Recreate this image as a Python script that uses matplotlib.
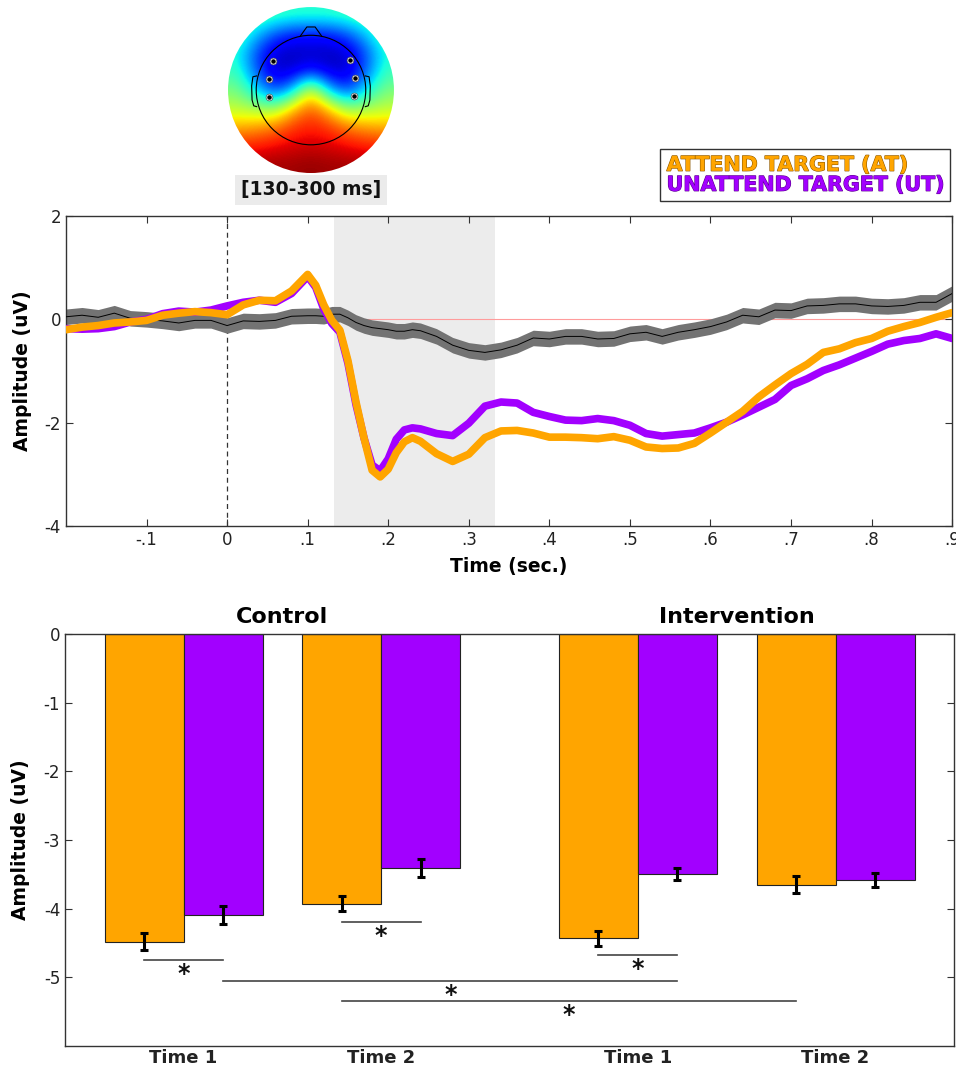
import numpy as np
import matplotlib
matplotlib.use("Agg")
import matplotlib.pyplot as plt
import matplotlib.patheffects as pe
from matplotlib.patches import Circle
from matplotlib.lines import Line2D

# ---- ERP waveforms (time in s, amplitude in uV) ----
time_s = [-0.20, -0.18, -0.16, -0.14, -0.12, -0.10, -0.08, -0.06, -0.04, -0.02,
          0.00, 0.02, 0.04, 0.06, 0.08, 0.10, 0.11, 0.12, 0.13, 0.14,
          0.15, 0.16, 0.17, 0.18, 0.19, 0.20, 0.21, 0.22, 0.23, 0.24,
          0.26, 0.28, 0.30, 0.32, 0.34, 0.36, 0.38, 0.40, 0.42, 0.44,
          0.46, 0.48, 0.50, 0.52, 0.54, 0.56, 0.58, 0.60, 0.62, 0.64,
          0.66, 0.68, 0.70, 0.72, 0.74, 0.76, 0.78, 0.80, 0.82, 0.84,
          0.86, 0.88, 0.90]
attend_uv = [-0.20, -0.15, -0.12, -0.07, -0.05, -0.02, 0.08, 0.12, 0.15, 0.13,
             0.09, 0.28, 0.37, 0.36, 0.55, 0.87, 0.66, 0.28, -0.02, -0.21,
             -0.80, -1.60, -2.30, -2.92, -3.05, -2.90, -2.58, -2.37, -2.29, -2.36,
             -2.60, -2.75, -2.61, -2.29, -2.16, -2.15, -2.20, -2.28, -2.28, -2.29,
             -2.31, -2.27, -2.34, -2.47, -2.50, -2.49, -2.40, -2.20, -1.99, -1.78,
             -1.50, -1.27, -1.05, -0.87, -0.64, -0.57, -0.45, -0.37, -0.23, -0.14,
             -0.06, 0.04, 0.13]
unattend_uv = [-0.18, -0.19, -0.18, -0.14, -0.05, 0.00, 0.11, 0.16, 0.14, 0.18,
               0.26, 0.33, 0.37, 0.33, 0.50, 0.83, 0.62, 0.20, -0.08, -0.25,
               -0.85, -1.65, -2.30, -2.82, -2.93, -2.70, -2.32, -2.14, -2.10, -2.12,
               -2.21, -2.25, -2.01, -1.68, -1.60, -1.62, -1.80, -1.88, -1.95, -1.96,
               -1.92, -1.96, -2.05, -2.21, -2.26, -2.23, -2.20, -2.10, -1.99, -1.85,
               -1.70, -1.55, -1.28, -1.15, -0.99, -0.88, -0.75, -0.62, -0.48, -0.41,
               -0.37, -0.28, -0.37]
diff_uv = [0.05, 0.08, 0.04, 0.12, 0.02, 0.00, -0.03, -0.07, -0.02, -0.02,
           -0.12, -0.03, -0.04, -0.02, 0.06, 0.07, 0.07, 0.06, 0.10, 0.10,
           0.03, -0.06, -0.12, -0.16, -0.18, -0.20, -0.23, -0.23, -0.20, -0.22,
           -0.33, -0.50, -0.60, -0.64, -0.59, -0.50, -0.36, -0.38, -0.33, -0.33,
           -0.38, -0.37, -0.28, -0.25, -0.33, -0.25, -0.20, -0.14, -0.05, 0.08,
           0.05, 0.18, 0.17, 0.26, 0.27, 0.30, 0.30, 0.26, 0.25, 0.27,
           0.33, 0.33, 0.50]
diff_se = 0.15
window_s = (0.133, 0.333)

# ---- topography (jet scale 0..1), rows from front (top) to back ----
topo_grid = [
    [0.45, 0.45, 0.42, 0.40, 0.40, 0.40, 0.42, 0.45, 0.45],
    [0.45, 0.32, 0.20, 0.14, 0.13, 0.14, 0.20, 0.32, 0.45],
    [0.38, 0.20, 0.07, 0.05, 0.06, 0.05, 0.07, 0.20, 0.38],
    [0.42, 0.22, 0.07, 0.08, 0.15, 0.08, 0.07, 0.22, 0.42],
    [0.50, 0.35, 0.18, 0.30, 0.66, 0.30, 0.18, 0.35, 0.50],
    [0.58, 0.55, 0.52, 0.70, 0.82, 0.70, 0.52, 0.55, 0.58],
    [0.72, 0.74, 0.78, 0.85, 0.88, 0.85, 0.78, 0.74, 0.72],
    [0.87, 0.88, 0.90, 0.92, 0.93, 0.92, 0.90, 0.88, 0.87],
    [0.96, 0.96, 0.97, 0.97, 0.98, 0.97, 0.97, 0.96, 0.96],
]
elec_x = [-0.46, -0.51, -0.51, 0.47, 0.53, 0.52]
elec_y = [0.35, 0.13, -0.08, 0.36, 0.14, -0.07]

# ---- bar chart ----
group_names = ["Control", "Intervention"]
tick_labels = ["Time 1", "Time 2", "Time 1", "Time 2"]
positions = [1.0, 2.0, 3.3, 4.3]
at_mean = [-4.48, -3.93, -4.43, -3.65]
ut_mean = [-4.09, -3.41, -3.49, -3.58]
at_sem = [0.12, 0.11, 0.11, 0.12]
ut_sem = [0.13, 0.13, 0.09, 0.10]
# significance brackets: (x start, x end, y)
sig_lines = [(0.8, 1.2, -4.75), (1.8, 2.2, -4.19), (3.1, 3.5, -4.67),
             (1.2, 3.5, -5.05), (1.8, 4.1, -5.34)]

AT_COLOR = "#FFA500"
UT_COLOR = "#A200FF"
AX_COLOR = "#333333"

plt.rcParams["font.family"] = "DejaVu Sans"
fig = plt.figure(figsize=(9.56, 10.70), dpi=100)


def style_axes(ax):
    for s in ax.spines.values():
        s.set_color(AX_COLOR)
        s.set_linewidth(1.0)
    ax.tick_params(direction="in", length=5, color=AX_COLOR, labelsize=12,
                   top=True, right=True, labelcolor="#222222")


# --- ERP panel ---
ax = fig.add_axes([0.069, 0.5084, 0.927, 0.2897])
ax.axvspan(*window_s, color="#ececec", lw=0, zorder=0)
ax.axhline(0, color="#ff9c9c", lw=0.8, zorder=1)
ax.axvline(0, color="#333333", lw=0.9, ls=(0, (4, 3)), zorder=1)
t = np.array(time_s)
d = np.array(diff_uv)
ax.fill_between(t, d - diff_se, d + diff_se, color="#737373", lw=0, zorder=2)
ax.plot(t, d, color="black", lw=0.7, zorder=3)
ax.plot(t, unattend_uv, color=UT_COLOR, lw=5.5, solid_capstyle="round",
        solid_joinstyle="round", zorder=4)
ax.plot(t, attend_uv, color=AT_COLOR, lw=5.5, solid_capstyle="round",
        solid_joinstyle="round", zorder=5)
ax.set_xlim(-0.2, 0.9)
ax.set_ylim(-4, 2)
xt = [-0.1, 0, 0.1, 0.2, 0.3, 0.4, 0.5, 0.6, 0.7, 0.8, 0.9]
ax.set_xticks(xt)
ax.set_xticklabels(["-.1", "0", ".1", ".2", ".3", ".4", ".5", ".6", ".7", ".8", ".9"])
ax.set_yticks([-4, -2, 0, 2])
ax.set_yticklabels(["-4", "-2", "0", "2"])
style_axes(ax)
ax.set_xlabel("Time (sec.)", fontsize=13.5, fontweight="bold", labelpad=6)
ax.set_ylabel("Amplitude (uV)", fontsize=13.5, fontweight="bold", labelpad=9)

handles = [Line2D([], [], ls="none"), Line2D([], [], ls="none")]
leg = ax.legend(handles, ["ATTEND TARGET (AT)", "UNATTEND TARGET (UT)"],
                loc="lower right", bbox_to_anchor=(950 / 956, 1 - 201 / 1070),
                bbox_transform=fig.transFigure, handlelength=0, handletextpad=0,
                labelcolor=[AT_COLOR, UT_COLOR], prop={"weight": "bold", "size": 14.8},
                frameon=True, fancybox=False, borderpad=0.3, labelspacing=0.0,
                borderaxespad=0)
leg.get_frame().set_edgecolor("black")
leg.get_frame().set_linewidth(1.0)
for txt, dark in zip(leg.get_texts(), ["#8a5600", "#5a008a"]):
    txt.set_path_effects([pe.withStroke(linewidth=0.8, foreground=dark)])

# --- topography ---
tax = fig.add_axes([0.2385, 0.8383, 0.1736, 0.1551])
img = tax.imshow(np.array(topo_grid), extent=[-1, 1, -1, 1], cmap="jet",
                 vmin=0, vmax=1, interpolation="bicubic", origin="upper")
img.set_clip_path(Circle((0, 0), 1.0, transform=tax.transData))
tax.add_patch(Circle((0, 0), 0.66, fill=False, ec="black", lw=0.8))
tax.plot([-0.13, -0.05, 0.05, 0.13], [0.648, 0.76, 0.76, 0.648], color="black", lw=0.8)
for sgn in (-1, 1):
    tax.plot([sgn * 0.655, sgn * 0.70, sgn * 0.715, sgn * 0.71, sgn * 0.69, sgn * 0.655],
             [0.17, 0.16, 0.05, -0.12, -0.19, -0.20], color="black", lw=0.8)
tax.scatter(elec_x, elec_y, s=24, c="white", edgecolors="#555555", linewidths=0.5, zorder=5)
tax.scatter(elec_x, elec_y, s=5, c="black", zorder=6)
tax.set_xlim(-1, 1)
tax.set_ylim(-1, 1)
tax.set_aspect("equal")
tax.axis("off")
fig.text(311 / 956, 1 - 190 / 1070, "[130-300 ms]", ha="center", va="center",
         fontsize=13.5, fontweight="bold", color="#111111",
         bbox=dict(facecolor="#ebebeb", edgecolor="none", pad=4))

# --- bar panel ---
bx = fig.add_axes([0.068, 0.0224, 0.93, 0.385])
pos = np.array(positions)
w = 0.4
bx.bar(pos - w / 2, at_mean, width=w, color=AT_COLOR, edgecolor="#222222", lw=0.8, zorder=2)
bx.bar(pos + w / 2, ut_mean, width=w, color=UT_COLOR, edgecolor="#222222", lw=0.8, zorder=2)
bx.errorbar(pos - w / 2, at_mean, yerr=at_sem, fmt="none", ecolor="black",
            elinewidth=2.2, capsize=3, capthick=2.2, zorder=3)
bx.errorbar(pos + w / 2, ut_mean, yerr=ut_sem, fmt="none", ecolor="black",
            elinewidth=2.2, capsize=3, capthick=2.2, zorder=3)
for x0, x1, y in sig_lines:
    bx.plot([x0, x1], [y, y], color="#444444", lw=1.2, zorder=3)
    bx.text((x0 + x1) / 2, y - 0.03, "*", ha="center", va="top", fontsize=17,
            fontweight="bold", color="#111111")
bx.set_xlim(0.4, 4.9)
bx.set_ylim(-6, 0)
bx.set_yticks([-5, -4, -3, -2, -1, 0])
bx.set_yticklabels(["-5", "-4", "-3", "-2", "-1", "0"])
bx.set_xticks(positions)
bx.set_xticklabels(tick_labels, fontsize=13, fontweight="bold")
style_axes(bx)
bx.tick_params(axis="x", length=0, top=False, labelsize=13, pad=2)
bx.set_ylabel("Amplitude (uV)", fontsize=13.5, fontweight="bold", labelpad=10)
for name, cx in zip(group_names, [(pos[0] + pos[1]) / 2, (pos[2] + pos[3]) / 2]):
    bx.text(cx, 1.0 + 17 / 412, name, transform=bx.get_xaxis_transform(),
            ha="center", va="center", fontsize=16, fontweight="bold")

fig.savefig("out.png", dpi=100)
